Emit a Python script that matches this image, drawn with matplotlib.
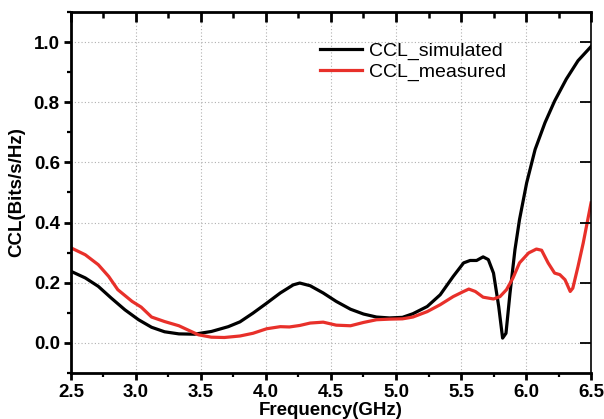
import numpy as np
import matplotlib
matplotlib.use("Agg")
import matplotlib.pyplot as plt
import matplotlib.lines as mlines
from matplotlib.ticker import MultipleLocator, FormatStrFormatter

plt.rcParams['font.family'] = ['Liberation Sans', 'DejaVu Sans']

# values
freq_sim = [2.5, 2.61, 2.71, 2.81, 2.915, 3.02, 3.12, 3.22, 3.33, 3.45, 3.58,
            3.71, 3.80, 3.90, 4.005, 4.11, 4.21, 4.26, 4.34, 4.44, 4.54, 4.65,
            4.75, 4.85, 4.95, 5.05, 5.13, 5.24, 5.34, 5.44, 5.52, 5.57, 5.62,
            5.67, 5.71, 5.75, 5.79, 5.82, 5.846, 5.877, 5.915, 5.95, 6.005,
            6.07, 6.146, 6.22, 6.31, 6.40, 6.5]
ccl_sim = [0.238, 0.216, 0.188, 0.149, 0.11, 0.077, 0.052, 0.037, 0.03, 0.029,
           0.038, 0.054, 0.07, 0.099, 0.132, 0.166, 0.193, 0.199, 0.19, 0.166,
           0.138, 0.112, 0.096, 0.086, 0.083, 0.085, 0.097, 0.121, 0.16, 0.221,
           0.266, 0.274, 0.274, 0.286, 0.277, 0.232, 0.121, 0.016, 0.032,
           0.166, 0.31, 0.41, 0.532, 0.643, 0.732, 0.804, 0.877, 0.938, 0.985]

freq_meas = [2.5, 2.61, 2.71, 2.79, 2.86, 2.97, 3.04, 3.12, 3.22, 3.33, 3.40,
             3.48, 3.58, 3.68, 3.80, 3.90, 4.005, 4.11, 4.18, 4.26, 4.34, 4.44,
             4.54, 4.65, 4.75, 4.85, 4.95, 5.05, 5.13, 5.24, 5.34, 5.44, 5.52,
             5.56, 5.61, 5.67, 5.75, 5.80, 5.85, 5.90, 5.95, 6.02, 6.08, 6.12,
             6.17, 6.22, 6.26, 6.30, 6.34, 6.36, 6.40, 6.44, 6.5]
ccl_meas = [0.316, 0.293, 0.26, 0.221, 0.177, 0.138, 0.119, 0.086, 0.071,
            0.057, 0.043, 0.027, 0.019, 0.018, 0.023, 0.032, 0.047, 0.054,
            0.053, 0.058, 0.066, 0.069, 0.059, 0.057, 0.068, 0.077, 0.079,
            0.08, 0.086, 0.104, 0.127, 0.154, 0.171, 0.179, 0.171, 0.152,
            0.146, 0.154, 0.177, 0.216, 0.266, 0.299, 0.312, 0.308, 0.266,
            0.232, 0.227, 0.21, 0.171, 0.182, 0.254, 0.332, 0.465]

fig = plt.figure(figsize=(6.04, 4.19), dpi=100)
ax = fig.add_axes([0.1175, 0.1098, 0.861, 0.8616])

ax.plot(freq_sim, ccl_sim, color='black', lw=2.3, label='CCL_simulated',
        solid_joinstyle='round')
ax.plot(freq_meas, ccl_meas, color='#e8302a', lw=2.3, label='CCL_measured',
        solid_joinstyle='round')

ax.set_xlim(2.5, 6.5)
ax.set_ylim(-0.1, 1.1)
ax.xaxis.set_major_locator(MultipleLocator(0.5))
ax.xaxis.set_minor_locator(MultipleLocator(0.25))
ax.yaxis.set_major_locator(MultipleLocator(0.2))
ax.yaxis.set_minor_locator(MultipleLocator(0.1))
ax.xaxis.set_major_formatter(FormatStrFormatter('%.1f'))
ax.yaxis.set_major_formatter(FormatStrFormatter('%.1f'))

ax.grid(True, which='major', color='#b0b0b0', linestyle=(0, (1, 2)), lw=0.8)

ax.spines['left'].set_linewidth(2.0)
ax.spines['bottom'].set_linewidth(2.0)
ax.spines['top'].set_linewidth(2.0)
ax.spines['right'].set_linewidth(1.2)

ax.tick_params(which='major', direction='out', length=5, width=2.0,
               labelsize=13.5, pad=3)
ax.tick_params(which='minor', direction='out', length=3, width=1.6)
for lbl in ax.get_xticklabels() + ax.get_yticklabels():
    lbl.set_fontweight('bold')

# inward tick marks along the top and right edges, at the axis tick locations
xmaj = [v for v in ax.xaxis.get_majorticklocs() if 2.5 <= v <= 6.5]
xmin = [v for v in ax.xaxis.get_minorticklocs() if 2.5 <= v <= 6.5]
ymaj = [v for v in ax.yaxis.get_majorticklocs() if -0.1 <= v <= 1.1]
ax.plot(xmaj, np.ones(len(xmaj)), transform=ax.get_xaxis_transform(),
        ls='none', marker=mlines.TICKDOWN, ms=7, mew=2.0, color='black',
        clip_on=False)
ax.plot(xmin, np.ones(len(xmin)), transform=ax.get_xaxis_transform(),
        ls='none', marker=mlines.TICKDOWN, ms=4, mew=1.8, color='black',
        clip_on=False)
ax.plot(np.ones(len(ymaj)), ymaj, transform=ax.get_yaxis_transform(),
        ls='none', marker=mlines.TICKLEFT, ms=8, mew=1.3, color='black',
        clip_on=False)

ax.set_xlabel('Frequency(GHz)', fontsize=13.5, fontweight='bold', labelpad=1)
ax.set_ylabel('CCL(Bits/s/Hz)', fontsize=13.5, fontweight='bold', labelpad=6)

ax.legend(loc='upper left', bbox_to_anchor=(0.463, 0.937), frameon=False,
          fontsize=14, handlelength=2.2, handletextpad=0.35,
          labelspacing=0.15, borderaxespad=0)

fig.savefig('out.png', dpi=100)
